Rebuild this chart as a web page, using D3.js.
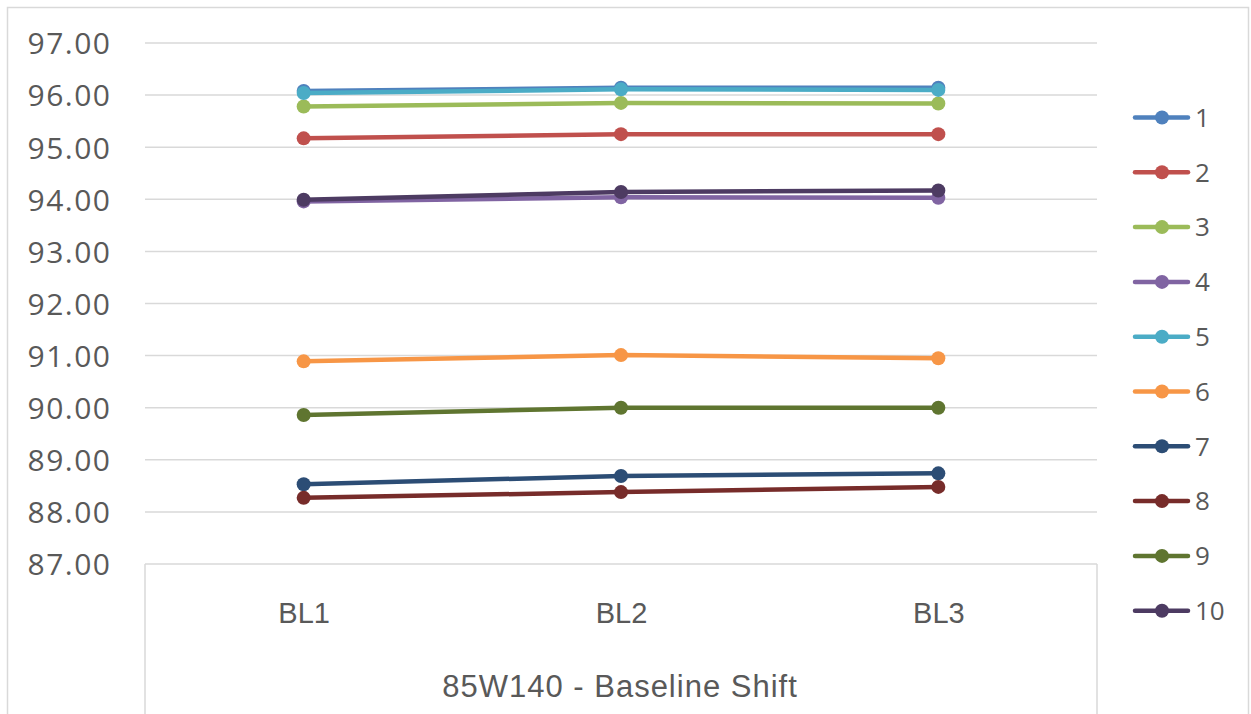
<!DOCTYPE html>
<html><head><meta charset="utf-8">
<script src="https://cdn.jsdelivr.net/npm/d3@7"></script>
<style>body{margin:0;background:#fff}svg{display:block}</style>
</head><body><svg id="c" width="1251" height="714"></svg>
<script>
const categories = ["BL1", "BL2", "BL3"];
const seriesNames = ["1","2","3","4","5","6","7","8","9","10"];
const s1 = [96.08, 96.14, 96.14];
const s2 = [95.17, 95.25, 95.25];
const s3 = [95.78, 95.85, 95.84];
const s4 = [93.96, 94.04, 94.03];
const s5 = [96.04, 96.11, 96.10];
const s6 = [90.89, 91.01, 90.95];
const s7 = [88.53, 88.69, 88.74];
const s8 = [88.27, 88.38, 88.48];
const s9 = [89.86, 90.00, 90.00];
const s10 = [93.99, 94.14, 94.17];
const yTicks = [87, 88, 89, 90, 91, 92, 93, 94, 95, 96, 97];
const colors = ["#4F81BD","#C0504D","#9BBB59","#8064A2","#4BACC6","#F79646","#2C4D75","#772C2A","#5F7530","#4D3B62"];
const axisTitle = "85W140 - Baseline Shift";

(function(){
const series = [s1,s2,s3,s4,s5,s6,s7,s8,s9,s10].map((v,i)=>({name:seriesNames[i], values:v, color:colors[i]}));

const svg = d3.select("#c");
const pl = 145, pr = 1097, pt = 43, pb = 564;
const x = d3.scalePoint().domain(categories).range([pl, pr]).padding(0.5);
const y = d3.scaleLinear().domain([87, 97]).range([pb, pt]);

svg.append("rect").attr("x",7.5).attr("y",7.5).attr("width",1241).attr("height",720)
  .attr("fill","none").attr("stroke","#d9d9d9").attr("stroke-width",1.5);

svg.append("g").selectAll("line").data(yTicks).join("line")
  .attr("x1",pl).attr("x2",pr).attr("y1",d=>y(d)).attr("y2",d=>y(d))
  .attr("stroke","#d9d9d9").attr("stroke-width",1.5);

svg.append("line").attr("x1",pl).attr("x2",pl).attr("y1",pb).attr("y2",714).attr("stroke","#d9d9d9").attr("stroke-width",1.5);
svg.append("line").attr("x1",pr).attr("x2",pr).attr("y1",pb).attr("y2",714).attr("stroke","#d9d9d9").attr("stroke-width",1.5);

const yAxis = d3.axisLeft(y).tickValues(yTicks).tickFormat(d3.format(".2f")).tickSize(0).tickPadding(0);
const ga = svg.append("g").attr("transform","translate(111.5,0)").call(yAxis);
ga.select(".domain").remove();
ga.selectAll("text").attr("font-family","'Open Sans', sans-serif").attr("font-size",30).attr("letter-spacing",1.5).attr("fill","#595959").attr("dy","0.36em");

const xAxis = d3.axisBottom(x).tickSize(0).tickPadding(0);
const gx = svg.append("g").attr("transform","translate(0,623)").call(xAxis);
gx.select(".domain").remove();
gx.selectAll("text").attr("font-family","'Liberation Sans', sans-serif").attr("font-size",29).attr("fill","#595959").attr("dy",0);

svg.append("text").attr("x",(pl+pr)/2 - 1).attr("y",697).attr("text-anchor","middle")
  .attr("font-family","'Liberation Sans', sans-serif").attr("font-size",31).attr("letter-spacing",1).attr("fill","#595959").text(axisTitle);

const line = d3.line().x((d,i)=>x(categories[i])).y(d=>y(d));
const gs = svg.append("g").selectAll("g").data(series).join("g");
gs.append("path").attr("d",d=>line(d.values)).attr("fill","none").attr("stroke",d=>d.color).attr("stroke-width",4.5).attr("stroke-linecap","round");
gs.selectAll("circle").data(d=>d.values.map((v,i)=>({v,i,c:d.color}))).join("circle")
  .attr("cx",d=>x(categories[d.i])).attr("cy",d=>y(d.v)).attr("r",7).attr("fill",d=>d.c);

const lg = svg.append("g").selectAll("g").data(series).join("g")
  .attr("transform",(d,i)=>`translate(0,${117.5 + i*54.8})`);
lg.append("line").attr("x1",1135).attr("x2",1188).attr("stroke",d=>d.color).attr("stroke-width",4.5).attr("stroke-linecap","round");
lg.append("circle").attr("cx",1162).attr("r",7).attr("fill",d=>d.color);
lg.append("text").attr("x",1195).attr("dy","0.36em").attr("font-family","'Open Sans', sans-serif").attr("font-size",26).attr("fill","#595959").text(d=>d.name);
})();
</script></body></html>
